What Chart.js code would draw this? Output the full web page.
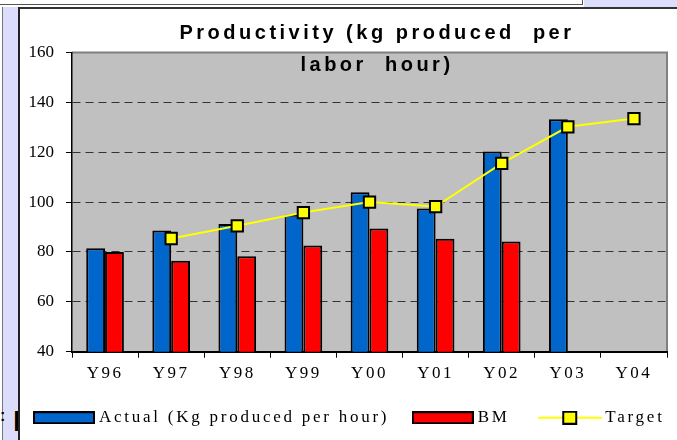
<!DOCTYPE html>
<html>
<head>
<meta charset="utf-8">
<script src="https://cdn.jsdelivr.net/npm/chart.js@4"></script>
<style>
  html, body { margin: 0; padding: 0; background: #fff; }
  #wrap { position: relative; width: 677px; height: 440px; overflow: hidden; }
  .deco { position: absolute; }
  #chart { position: absolute; left: 0; top: 0; }
</style>
</head>
<body>
<div id="wrap">
  <!-- slide frame pieces around the chart -->
  <div class="deco" style="left:0;top:0;width:582px;height:4px;border-bottom:1.5px solid #555;border-right:1.5px solid #555;"></div>
  <div class="deco" style="left:584px;top:0;width:93px;height:7px;background:#dcdcfc;"></div>
  <div class="deco" style="left:18px;top:7px;width:659px;height:2px;background:#333;"></div>
  <div class="deco" style="left:2px;top:7px;width:1px;height:433px;background:#777;"></div>
  <div class="deco" style="left:3px;top:7px;width:15px;height:433px;background:#dcdcfc;"></div>
  <div class="deco" style="left:18px;top:7px;width:2px;height:433px;background:#222;"></div>
  <div class="deco" style="left:0;top:400px;width:18px;height:36px;overflow:hidden;">
    <span style="position:absolute;left:0;top:6px;font:bold 16px/20px 'Liberation Sans';color:#000;">:</span>
    <span style="position:absolute;left:13px;top:6px;font:bold 30px/30px 'Liberation Sans';color:#000;">I</span>
  </div>
  <canvas id="chart" width="677" height="440"></canvas>
</div>
<script>
const categories = ['Y96', 'Y97', 'Y98', 'Y99', 'Y00', 'Y01', 'Y02', 'Y03', 'Y04'];
const actual = [81.5, 88.6, 91.2, 94.9, 104, 97.4, 120.3, 133.2, null];
const bm = [80, 76.5, 78.3, 82.6, 89.4, 85.3, 84.2, null, null];
const target = [null, 85.4, 90.5, 95.8, 100, 98.2, 115.5, 130.2, 133.5];
const yTicks = { min: 40, max: 160, step: 20 };
const titleLines = ['Productivity (kg produced  per', 'labor  hour)'];
// trailing no-break space widens the BM entry like the original
const legendNames = ['Actual (Kg produced per hour)', 'BM\u00a0', 'Target'];

const BLUE = '#0066cc';
const RED = '#ff0000';
const YELLOW = '#ffff00';

// little pictures used as legend symbols
function swatch(w, h, draw) {
  const c = document.createElement('canvas');
  c.width = w; c.height = h;
  draw(c.getContext('2d'));
  return c;
}
const blueBox = swatch(62, 13, g => {
  g.fillStyle = BLUE; g.fillRect(0, 0, 62, 13);
  g.strokeStyle = '#000'; g.lineWidth = 2; g.strokeRect(1, 1, 60, 11);
});
const redBox = swatch(62, 13, g => {
  g.fillStyle = RED; g.fillRect(0, 0, 62, 13);
  g.strokeStyle = '#000'; g.lineWidth = 2; g.strokeRect(1, 1, 60, 11);
});
const targetMark = swatch(64, 14, g => {
  g.strokeStyle = YELLOW; g.lineWidth = 2;
  g.beginPath(); g.moveTo(0, 7); g.lineTo(64, 7); g.stroke();
  g.fillStyle = YELLOW; g.fillRect(25, 1, 13, 12);
  g.strokeStyle = '#000'; g.strokeRect(25, 1, 13, 12);
});

function withSpacing(ctx, ls, fn) {
  const prev = ctx.letterSpacing;
  ctx.letterSpacing = ls;
  fn();
  ctx.letterSpacing = prev;
}

const framePlugin = {
  id: 'frame',
  beforeLayout(chart) {
    chart.ctx.letterSpacing = '2.5px';
    const lg = chart.legend;
    if (lg && !lg._wrapped) {
      const fit = lg.fit;
      const draw = lg.draw;
      // keep the three entries on one row and a fixed height
      lg.fit = function () {
        const mw = this.maxWidth;
        this.maxWidth = 5000;
        withSpacing(this.ctx, '2.75px', () => fit.call(this));
        this.maxWidth = mw;
        this.width = mw;
        this.height = 57.8;
      };
      lg.draw = function () {
        const r = this.right;
        this.right = 5000;
        withSpacing(this.ctx, '2.75px', () => draw.call(this));
        this.right = r;
      };
      lg._wrapped = true;
    }
  },
  beforeDraw(chart) {
    const { ctx, chartArea: a } = chart;
    ctx.letterSpacing = '2.5px';
    const ys = chart.scales.y;
    if (ys && !ys._wrapped) {
      const orig = ys.drawLabels;
      ys.drawLabels = function (area) {
        withSpacing(this.ctx, '0px', () => orig.call(this, area));
      };
      ys._wrapped = true;
    }
    ctx.save();
    ctx.fillStyle = '#c0c0c0';
    ctx.fillRect(a.left, a.top, a.right - a.left, a.bottom - a.top);
    ctx.strokeStyle = '#808080';
    ctx.lineWidth = 2;
    ctx.beginPath();
    ctx.moveTo(a.left, a.top);
    ctx.lineTo(a.right, a.top);
    ctx.lineTo(a.right, a.bottom);
    ctx.stroke();
    ctx.restore();
  },
  afterDraw(chart) {
    const ctx = chart.ctx;
    ctx.save();
    ctx.font = 'bold 20px "Liberation Sans"';
    ctx.letterSpacing = '3.5px';
    ctx.fillStyle = '#000';
    ctx.textAlign = 'center';
    ctx.textBaseline = 'alphabetic';
    ctx.fillText(titleLines[0], 377, 39);
    ctx.fillText(titleLines[1], 377, 71);
    ctx.restore();
  }
};

new Chart(document.getElementById('chart'), {
  data: {
    labels: categories,
    datasets: [
      {
        type: 'line',
        label: 'Target',
        data: target,
        order: 0,
        borderColor: YELLOW,
        borderWidth: 2,
        backgroundColor: YELLOW,
        pointStyle: 'rect',
        pointRadius: 8,
        pointBorderColor: '#000',
        pointBorderWidth: 2,
        pointBackgroundColor: YELLOW,
        tension: 0
      },
      {
        type: 'bar',
        label: 'Actual (Kg produced per hour)',
        data: actual,
        order: 1,
        backgroundColor: BLUE,
        borderColor: '#000',
        borderWidth: 2,
        categoryPercentage: 0.57,
        barPercentage: 1
      },
      {
        type: 'bar',
        label: 'BM',
        data: bm,
        order: 2,
        backgroundColor: RED,
        borderColor: '#000',
        borderWidth: 2,
        categoryPercentage: 0.57,
        barPercentage: 1
      }
    ]
  },
  options: {
    responsive: false,
    animation: false,
    devicePixelRatio: 1,
    layout: { padding: { left: 10.5, right: 5, top: 52.5, bottom: 0 } },
    scales: {
      x: {
        afterFit(s) { s.height = 30.5; },
        grid: {
          offset: true,
          drawOnChartArea: false,
          drawTicks: true,
          tickLength: 6,
          tickColor: '#000',
          tickWidth: 1
        },
        border: { color: '#000', width: 2 },
        ticks: {
          color: '#000',
          font: { family: 'Liberation Serif', size: 17 },
          maxRotation: 0,
          autoSkip: false,
          padding: 6
        }
      },
      y: {
        min: yTicks.min,
        max: yTicks.max,
        afterFit(s) { s.width = 61.5; },
        grid: {
          color: c => (c.tick && (c.tick.value === yTicks.min || c.tick.value === yTicks.max)) ? 'rgba(0,0,0,0)' : '#333',
          lineWidth: 1,
          tickLength: 6,
          tickColor: '#000',
          tickWidth: 1
        },
        border: { color: '#000', width: 1.5, dash: [8, 5] },
        ticks: {
          stepSize: yTicks.step,
          color: '#000',
          font: { family: 'Liberation Serif', size: 17 },
          padding: 12
        }
      }
    },
    plugins: {
      title: { display: false },
      tooltip: { enabled: false },
      legend: {
        position: 'bottom',
        align: 'start',
        labels: {
          usePointStyle: true,
          pointStyleWidth: 53,
          padding: 27,
          color: '#000',
          font: { family: 'Liberation Serif', size: 17 },
          generateLabels() {
            const syms = [blueBox, redBox, targetMark];
            return legendNames.map((t, i) => ({
              text: t,
              pointStyle: syms[i],
              fillStyle: 'rgba(0,0,0,0)',
              strokeStyle: 'rgba(0,0,0,0)',
              lineWidth: 0,
              hidden: false,
              datasetIndex: [1, 2, 0][i]
            }));
          }
        }
      }
    }
  },
  plugins: [framePlugin]
});
</script>
</body>
</html>
